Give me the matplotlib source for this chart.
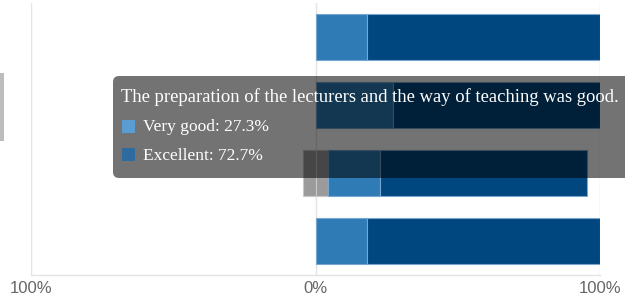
import matplotlib
matplotlib.use("Agg")
import matplotlib.pyplot as plt
from matplotlib.patches import FancyBboxPatch, Rectangle
import numpy as np

# Data
categories = ["Q1", "Q2", "The preparation of the lecturers and the way of teaching was good.", "Q4"]
neutral = [0.0, 0.0, 9.1, 0.0]
very_good = [18.2, 27.3, 18.2, 18.2]
excellent = [81.8, 72.7, 72.7, 81.8]
tick_vals = [-100, 0, 100]
tick_labels = ["100%", "0%", "100%"]
tooltip_title = "The preparation of the lecturers and the way of teaching was good."
tooltip_items = ["Very good: 27.3%", "Excellent: 72.7%"]

c_neutral = "#9b9b9b"
c_vg = "#2e7bb5"
c_ex = "#00477f"
c_edge = "#7aa7d0"

W, H = 625, 299
fig = plt.figure(figsize=(W / 100, H / 100), dpi=100)
ax = fig.add_axes([31 / W, 1 - 275 / H, (600 - 31) / W, (275 - 3) / H])

y = np.arange(len(categories))
neutral = np.array(neutral)
very_good = np.array(very_good)
excellent = np.array(excellent)
h = 0.676
half = neutral / 2
mask = neutral > 0
ax.barh(y[mask], -half[mask], left=0, height=h, color=c_neutral, edgecolor="#c8c8c8", linewidth=0.8, zorder=3)
ax.barh(y[mask], half[mask], left=0, height=h, color=c_neutral, edgecolor="#c8c8c8", linewidth=0.8, zorder=3)
ax.barh(y, very_good, left=half, height=h, color=c_vg, edgecolor=c_edge, linewidth=0.8, zorder=3)
ax.barh(y, excellent, left=half + very_good, height=h, color=c_ex, edgecolor=c_edge, linewidth=0.8, zorder=3)

ax.set_xlim(-100, 100)
ax.set_ylim(len(categories) - 0.5, -0.5)
ax.set_xticks(tick_vals)
ax.set_xticklabels(tick_labels, fontsize=12, color="#666666", family="Liberation Sans")
ax.set_yticks([])
ax.tick_params(axis="x", length=0, pad=4)
for v in tick_vals:
    ax.axvline(v, color="#e4e4e4", linewidth=1, zorder=1)
for s in ["top", "left", "right"]:
    ax.spines[s].set_visible(False)
ax.spines["bottom"].set_color("#e4e4e4")
ax.spines["bottom"].set_linewidth(1)

# left gray element
fig.patches.append(Rectangle((0, 1 - 141 / H), 4 / W, 68 / H, transform=fig.transFigure,
                             facecolor="#bdbdbd", edgecolor="none", zorder=5))

# tooltip (pixel coords converted to inches)
def px(x, yy):
    return x / 100, (H - yy) / 100

tx0, ty0 = px(113, 178)
tw, th = (640 - 113) / 100, (178 - 76) / 100
tip = FancyBboxPatch((tx0, ty0), tw, th, boxstyle="round,pad=0,rounding_size=0.06",
                     transform=fig.dpi_scale_trans, facecolor="black", alpha=0.55,
                     edgecolor="none", zorder=10)
fig.patches.append(tip)

fig.text(*px(121, 97), tooltip_title, transform=fig.dpi_scale_trans, color="white",
         family="Liberation Serif", fontsize=13.4, va="center", ha="left", zorder=11)
sq_colors = ["#5a9dd2", "#2f6b9f"]
sq_y = [120, 148]
txt_y = [127, 156]
for i in range(2):
    fig.patches.append(Rectangle(px(122, sq_y[i] + 13), 0.13, 0.13, transform=fig.dpi_scale_trans,
                                 facecolor=sq_colors[i], edgecolor="none", zorder=11))
    fig.text(*px(143, txt_y[i]), tooltip_items[i], transform=fig.dpi_scale_trans, color="white",
             family="Liberation Serif", fontsize=12.5, va="center", ha="left", zorder=11)

fig.savefig("out.png", dpi=100)
